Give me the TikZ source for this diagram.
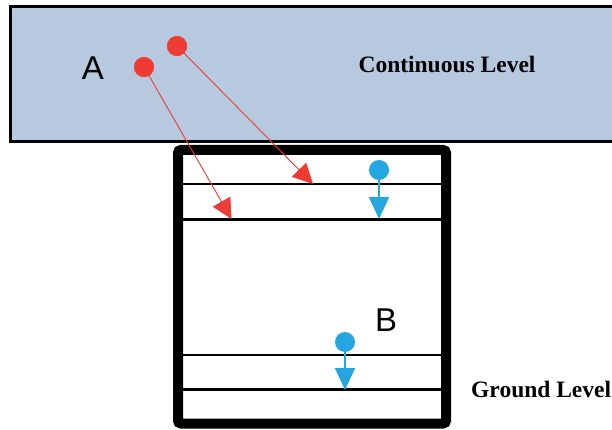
\documentclass[tikz,border=0pt]{standalone}
\usepackage{fontspec}
\setmainfont{Liberation Serif}
\setsansfont{Liberation Sans}
\usetikzlibrary{arrows.meta}
\definecolor{levelblue}{RGB}{183,201,223}
\definecolor{dotred}{RGB}{238,59,51}
\definecolor{dotblue}{RGB}{38,166,224}
\begin{document}
\begin{tikzpicture}[x=1pt,y=-1pt,
  reddot/.style={circle,fill=dotred,inner sep=0pt,minimum size=20pt},
  bluedot/.style={circle,fill=dotblue,inner sep=0pt,minimum size=20pt},
  redarrow/.style={draw=dotred,line width=0.9pt,-{Triangle[length=20pt,width=20pt]}},
  bluearrow/.style={draw=dotblue,line width=1.6pt,-{Triangle[length=22pt,width=20pt]}},
  levelline/.style={line width=3pt},
  biglabel/.style={font=\sffamily\fontsize{33}{33}\selectfont,inner sep=0pt},
  leveltext/.style={font=\rmfamily\bfseries\fontsize{23.5}{23.5}\selectfont,inner sep=0pt}]
\useasboundingbox (0,0) rectangle (612,430);
\clip (0,0) rectangle (612,430);
% continuous level
\draw[fill=levelblue,line width=3pt] (10.5,6.5) rectangle (650,142);
% ground box
\draw[line width=10pt,rounded corners=3pt] (178,150) rectangle (446,423.5);
\draw[levelline,line width=2.6pt] (183,184) -- (441,184);
\draw[levelline] (183,219) -- (441,219);
\draw[levelline,line width=2.6pt] (183,355) -- (441,355);
\draw[levelline] (183,389) -- (441,389);
% labels
\node[biglabel] (A) at (93,68) {A};
\node[biglabel] (B) at (386,320) {B};
\node[leveltext] (cont) at (447,64) {Continuous Level};
\node[leveltext,anchor=west] (ground) at (471,389) {Ground Level};
% red dots and arrows
\node[reddot] (r1) at (144,67) {};
\node[reddot] (r2) at (177,46) {};
\coordinate (t1) at (231.5,219);
\coordinate (t2) at (313,184);
\draw[redarrow] (r1.center) -- (t1);
\draw[redarrow] (r2.center) -- (t2);
\node[reddot] at (r1) {};
\node[reddot] at (r2) {};
% blue dots and arrows
\node[bluedot] (b1) at (379,170) {};
\node[bluedot] (b2) at (345,342) {};
\coordinate (u1) at (379,219);
\coordinate (u2) at (345,390);
\draw[bluearrow] (b1) -- (u1);
\draw[bluearrow] (b2) -- (u2);
\end{tikzpicture}
\end{document}
